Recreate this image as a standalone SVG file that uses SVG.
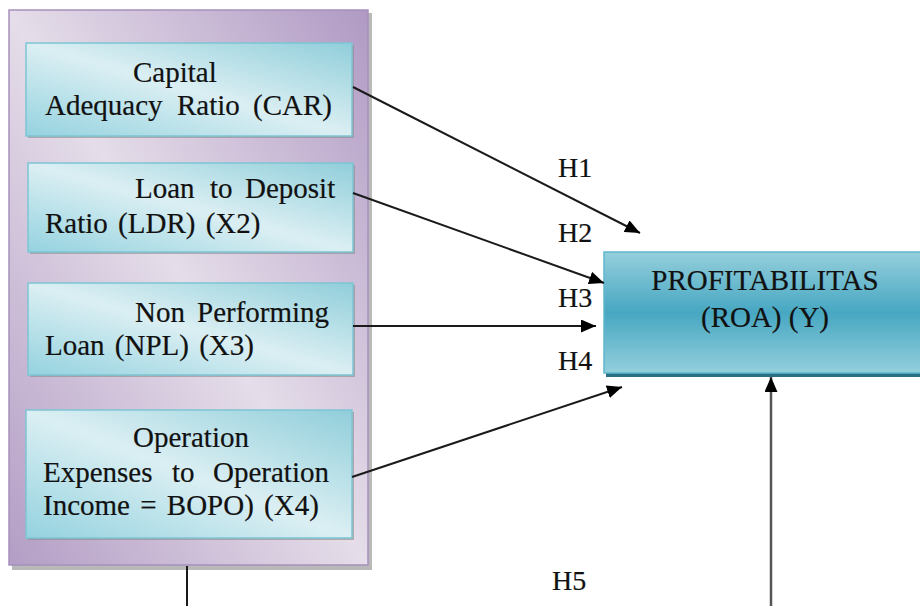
<svg xmlns="http://www.w3.org/2000/svg" width="920" height="606" viewBox="0 0 920 606">
<defs>
<linearGradient id="gPurple" x1="0" y1="1" x2="1" y2="0">
<stop offset="0" stop-color="#b39dc5"/>
<stop offset="0.5" stop-color="#e5dde9"/>
<stop offset="1" stop-color="#b09ac4"/>
</linearGradient>
<linearGradient id="gCyan" x1="0" y1="1" x2="1" y2="0">
<stop offset="0" stop-color="#94d2df"/>
<stop offset="0.5" stop-color="#dbeff3"/>
<stop offset="1" stop-color="#90ceda"/>
</linearGradient>
<linearGradient id="gTeal" x1="0" y1="0" x2="0" y2="1">
<stop offset="0" stop-color="#95cfdc"/>
<stop offset="0.5" stop-color="#47a7c2"/>
<stop offset="1" stop-color="#93cfdc"/>
</linearGradient>
<marker id="arr" markerUnits="userSpaceOnUse" markerWidth="16" markerHeight="13" refX="15" refY="6.5" orient="auto">
<path d="M0,0 L15,6.5 L0,13 Z" fill="#000"/>
</marker>
<style>
.t{font-family:'Liberation Serif','DejaVu Serif',serif;font-size:29px;fill:#111;stroke:#111;stroke-width:0.2}
.h{font-family:'Liberation Serif','DejaVu Serif',serif;font-size:28px;fill:#111;stroke:#111;stroke-width:0.2}
.ws{word-spacing:3px}
.inner{fill:url(#gCyan);stroke:#7ec5d4;stroke-width:1.5}
.shadow{fill:#8a8a8a;opacity:0.6}
.c{stroke:#1a1a1a;stroke-width:2;fill:none}
</style>
</defs>

<g id="group-x">
<rect x="12" y="13" width="360" height="557" class="shadow"/>
<rect x="9" y="10" width="359" height="555" fill="url(#gPurple)" stroke="#a690bb" stroke-width="1.5"/>
</g>

<g id="node-car">
<rect x="28" y="45" width="326" height="93" class="shadow"/>
<rect x="26" y="43" width="326" height="93" class="inner"/>
<text class="t"><tspan x="133" y="82">Capital</tspan><tspan x="45" y="115">Adequacy</tspan><tspan x="177" y="115">Ratio</tspan><tspan x="253" y="115">(CAR)</tspan></text>
</g>

<g id="node-ldr">
<rect x="30" y="165" width="325" height="89" class="shadow"/>
<rect x="28" y="163" width="325" height="89" class="inner"/>
<text class="t"><tspan x="135" y="198">Loan</tspan><tspan x="210" y="198">to</tspan><tspan x="245" y="198">Deposit</tspan><tspan class="ws" x="45" y="233">Ratio (LDR) (X2)</tspan></text>
</g>

<g id="node-npl">
<rect x="30" y="285" width="325" height="92" class="shadow"/>
<rect x="28" y="283" width="325" height="92" class="inner"/>
<text class="t"><tspan x="135" y="322">Non</tspan><tspan x="197" y="322">Performing</tspan><tspan class="ws" x="45" y="355">Loan (NPL) (X3)</tspan></text>
</g>

<g id="node-bopo">
<rect x="28" y="412" width="326" height="128" class="shadow"/>
<rect x="26" y="410" width="326" height="128" class="inner"/>
<text class="t"><tspan x="133" y="447">Operation</tspan><tspan x="43" y="482">Expenses</tspan><tspan x="172" y="482">to</tspan><tspan x="213" y="482">Operation</tspan><tspan class="ws" x="43" y="515">Income = BOPO) (X4)</tspan></text>
</g>

<g id="node-roa">
<rect x="606" y="255" width="320" height="122" fill="#2b6f84"/>
<rect x="604" y="252" width="320" height="121" fill="url(#gTeal)" stroke="#5fb6cc" stroke-width="1.5"/>
<text class="t" text-anchor="middle"><tspan x="765" y="290">PROFITABILITAS</tspan><tspan x="765" y="327">(ROA) (Y)</tspan></text>
</g>

<g id="connectors">
<line x1="353" y1="87" x2="640" y2="233" class="c" marker-end="url(#arr)"/>
<line x1="353" y1="193" x2="604" y2="283" class="c" marker-end="url(#arr)"/>
<line x1="353" y1="326" x2="596" y2="326" class="c" marker-end="url(#arr)"/>
<line x1="352" y1="477" x2="622" y2="387" class="c" marker-end="url(#arr)"/>
<line x1="771" y1="606" x2="771" y2="377" stroke="#555" stroke-width="2.5" marker-end="url(#arr)"/>
<line x1="187" y1="566" x2="187" y2="606" class="c"/>
</g>

<g id="labels">
<text class="h" x="558" y="177">H1</text>
<text class="h" x="558" y="242">H2</text>
<text class="h" x="558" y="307">H3</text>
<text class="h" x="558" y="370">H4</text>
<text class="h" x="552" y="590">H5</text>
</g>
</svg>
